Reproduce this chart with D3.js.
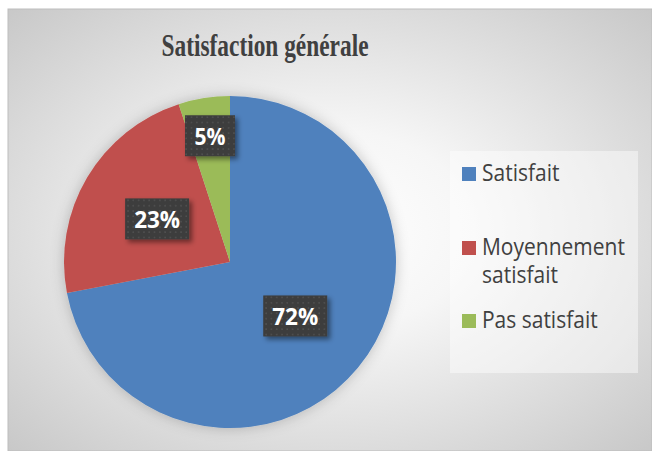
<!DOCTYPE html>
<html>
<head>
<meta charset="utf-8">
<script src="https://cdn.jsdelivr.net/npm/d3@7"></script>
<style>
  body { margin: 0; background: #fff; }
  svg { display: block; }
</style>
</head>
<body>
<svg width="652" height="451"></svg>
<script>
// data
var categories = ["Satisfait", "Moyennement satisfait", "Pas satisfait"];
var values = [72, 23, 5];
var legendLines = [["Satisfait"], ["Moyennement", "satisfait"], ["Pas satisfait"]];
var colors = ["#4f81bd", "#c0504d", "#9bbb59"];
var title = "Satisfaction générale";

var svg = d3.select("svg");
var defs = svg.append("defs");

// background gradient
var bg = defs.append("radialGradient").attr("id", "bg")
  .attr("cx", "50%").attr("cy", "50%").attr("r", "75%");
bg.append("stop").attr("offset", "0%").attr("stop-color", "#ffffff");
bg.append("stop").attr("offset", "30%").attr("stop-color", "#f6f6f6");
bg.append("stop").attr("offset", "100%").attr("stop-color", "#c4c4c4");

var pat = defs.append("pattern").attr("id", "dots")
  .attr("width", 5.3).attr("height", 5.3).attr("patternUnits", "userSpaceOnUse");
pat.append("rect").attr("width", 5.3).attr("height", 5.3).attr("fill", "#3c3c3c");
pat.append("rect").attr("x", 2).attr("y", 2).attr("width", 1.4).attr("height", 1.4).attr("fill", "#575757");

var sh = defs.append("filter").attr("id", "boxShadow")
  .attr("x", "-30%").attr("y", "-30%").attr("width", "170%").attr("height", "170%");
sh.append("feDropShadow").attr("dx", 3).attr("dy", 3).attr("stdDeviation", 2.5)
  .attr("flood-color", "#000").attr("flood-opacity", 0.45);

var glow = defs.append("filter").attr("id", "pieShadow")
  .attr("x", "-20%").attr("y", "-20%").attr("width", "140%").attr("height", "140%");
glow.append("feDropShadow").attr("dx", 0).attr("dy", 0).attr("stdDeviation", 7)
  .attr("flood-color", "#000").attr("flood-opacity", 0.22);

svg.append("rect")
  .attr("x", 8).attr("y", 9).attr("width", 644).attr("height", 442)
  .attr("fill", "url(#bg)").attr("stroke", "#bdbdbd").attr("stroke-width", 1);

svg.append("text")
  .attr("x", 265).attr("y", 56)
  .attr("text-anchor", "middle")
  .attr("font-family", "Liberation Serif, serif")
  .attr("font-weight", "bold")
  .attr("font-size", 31)
  .attr("fill", "#404040")
  .attr("textLength", 207)
  .attr("lengthAdjust", "spacingAndGlyphs")
  .text(title);

// pie
var cx = 230, cy = 262, radius = 166;
var pie = d3.pie().sort(null).value(function(d) { return d; });
var arc = d3.arc().innerRadius(0).outerRadius(radius);
var arcs = pie(values);

var g = svg.append("g").attr("transform", "translate(" + cx + "," + cy + ")");

g.append("g").attr("filter", "url(#pieShadow)")
  .selectAll("path")
  .data(arcs)
  .enter().append("path")
  .attr("d", arc)
  .attr("fill", function(d, i) { return colors[i]; });

var labels = g.selectAll(".lbl")
  .data(arcs)
  .enter().append("g")
  .attr("class", "lbl")
  .attr("transform", function(d) {
    var r = d.data < 10 ? radius * 0.77 : radius * 0.51;
    var c = d3.arc().innerRadius(r).outerRadius(r).centroid(d);
    return "translate(" + c[0] + "," + c[1] + ")";
  });

labels.append("rect")
  .attr("x", function(d) { return d.data < 10 ? -25 : -32; })
  .attr("y", -20.5)
  .attr("width", function(d) { return d.data < 10 ? 50 : 64; })
  .attr("height", 41)
  .attr("fill", "url(#dots)")
  .attr("filter", "url(#boxShadow)");

labels.append("text")
  .attr("text-anchor", "middle")
  .attr("y", 9)
  .attr("font-family", "Open Sans, sans-serif")
  .attr("font-weight", "bold")
  .attr("font-size", 24)
  .attr("fill", "#fff")
  .attr("textLength", function(d) { return d.data < 10 ? 31 : 46; })
  .attr("lengthAdjust", "spacingAndGlyphs")
  .text(function(d) { return d.data + "%"; });

// legend
svg.append("rect")
  .attr("x", 450).attr("y", 151).attr("width", 188).attr("height", 222)
  .attr("fill", "#ffffff").attr("fill-opacity", 0.45);

var legendY = [181, 255, 328];
var leg = svg.selectAll(".leg")
  .data(categories)
  .enter().append("g")
  .attr("class", "leg")
  .attr("transform", function(d, i) { return "translate(462," + legendY[i] + ")"; });

leg.append("rect")
  .attr("x", 0).attr("y", -14).attr("width", 14).attr("height", 14)
  .attr("fill", function(d, i) { return colors[i]; });

leg.each(function(d, i) {
  var t = d3.select(this).append("text")
    .attr("transform", "scale(1,1.12)")
    .attr("font-family", "Open Sans, sans-serif")
    .attr("font-size", 21)
    .attr("fill", "#404040");
  legendLines[i].forEach(function(line, j) {
    t.append("tspan").attr("x", 20).attr("y", j * 25).text(line);
  });
});
</script>
</body>
</html>
